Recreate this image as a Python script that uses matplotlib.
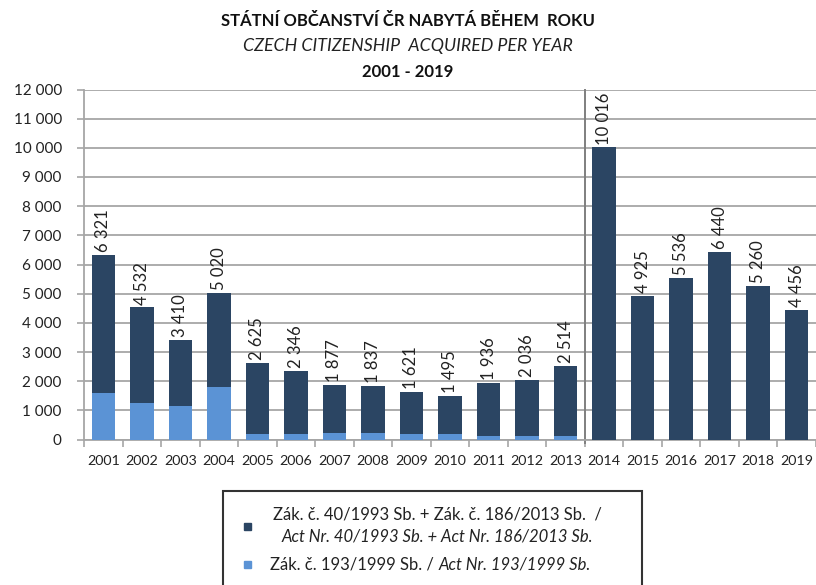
import matplotlib
matplotlib.use("Agg")
import matplotlib.pyplot as plt
from matplotlib.patches import Rectangle
import numpy as np

plt.rcParams['font.family'] = ['Lato', 'DejaVu Sans']

years = [str(y) for y in range(2001, 2020)]
totals = [6321, 4532, 3410, 5020, 2625, 2346, 1877, 1837, 1621, 1495,
          1936, 2036, 2514, 10016, 4925, 5536, 6440, 5260, 4456]
act193 = [1610, 1260, 1145, 1785, 180, 180, 230, 230, 180, 180,
          115, 115, 115, 0, 0, 0, 0, 0, 0]
act40 = [t - a for t, a in zip(totals, act193)]

title1 = "STÁTNÍ OBČANSTVÍ ČR NABYTÁ BĚHEM  ROKU"
title2 = "CZECH CITIZENSHIP  ACQUIRED PER YEAR"
title3 = "2001 - 2019"
leg1a = "Zák. č. 40/1993 Sb. + Zák. č. 186/2013 Sb.  /"
leg1b = "Act Nr. 40/1993 Sb. + Act Nr. 186/2013 Sb."
leg2a = "Zák. č. 193/1999 Sb. / "
leg2b = "Act Nr. 193/1999 Sb."

dark = "#2B4563"
light = "#5B93D5"
grid_c = "#A6A6A6"

W, H = 816, 585
fig = plt.figure(figsize=(W / 100, H / 100), dpi=100)
ax = fig.add_axes([84 / W, 1 - 439.5 / H, (816 - 84) / W, (439.5 - 89.5) / H])

x = np.arange(len(years))
bw = 0.61
ax.bar(x, act193, bw, color=light, zorder=3)
ax.bar(x, act40, bw, bottom=act193, color=dark, zorder=3)

def fmt(v):
    return f"{v:,}".replace(",", " ")

for xi, t in zip(x, totals):
    ax.annotate(fmt(t), (xi, t), xytext=(0, 2), textcoords="offset points",
                rotation=90, ha="center", va="bottom", fontsize=12,
                color="#222222", zorder=4, annotation_clip=False)

ax.set_ylim(0, 12000)
ax.set_xlim(-0.5, 18.45)
ax.set_yticks(range(0, 12001, 1000))
ax.set_yticklabels([fmt(v) for v in range(0, 12001, 1000)], fontsize=11, color="#222222")
ax.yaxis.grid(True, color=grid_c, linewidth=1.3, zorder=0)
ax.set_axisbelow(True)

ax.set_xticks(x)
ax.set_xticklabels(years, fontsize=10.3, color="#222222")
ax.tick_params(axis="x", length=0, pad=11)
ax.set_xticks(np.arange(-0.5, 18.6, 1), minor=True)
ax.tick_params(axis="x", which="minor", length=5, color=grid_c, width=1.2)
ax.tick_params(axis="y", length=5, color=grid_c, width=1.2, pad=11)

for s in ["top", "right"]:
    ax.spines[s].set_visible(False)
ax.spines["left"].set_color(grid_c)
ax.spines["left"].set_linewidth(1.3)
ax.spines["bottom"].set_color(grid_c)
ax.spines["bottom"].set_linewidth(1.3)

ax.axvline(12.5, ymin=-0.01, ymax=1, color="#7F7F7F", linewidth=1.4, zorder=2,
           clip_on=False)

fig.text(0.5, 1 - 21 / H, title1, ha="center", va="center", fontsize=12,
         fontweight="bold", color="#111111")
fig.text(0.5, 1 - 46 / H, title2, ha="center", va="center", fontsize=12.8,
         style="italic", color="#222222")
fig.text(0.5, 1 - 72 / H, title3, ha="center", va="center", fontsize=12,
         fontweight="bold", color="#111111")

# legend box
fig.patches.append(Rectangle((223 / W, 1 - 620 / H), (642 - 223) / W, (620 - 491) / H,
                             transform=fig.transFigure, fill=False,
                             edgecolor="#333333", linewidth=1.5))
fig.patches.append(Rectangle((244 / W, 1 - 530 / H), 7 / W, 7 / H,
                             transform=fig.transFigure, color=dark))
fig.patches.append(Rectangle((244 / W, 1 - 568 / H), 7 / W, 7 / H,
                             transform=fig.transFigure, color=light))
fig.text(437 / W, 1 - 514 / H, leg1a, ha="center", va="center", fontsize=12, color="#222222")
fig.text(437 / W, 1 - 536 / H, leg1b, ha="center", va="center", fontsize=12,
         style="italic", color="#222222")
t1 = fig.text(270 / W, 1 - 565 / H, leg2a, ha="left", va="center", fontsize=12, color="#222222")
fig.canvas.draw()
bb = t1.get_window_extent()
fig.text(bb.x1 / W, 1 - 565 / H, leg2b, ha="left", va="center", fontsize=12,
         style="italic", color="#222222")

fig.savefig("out.png", dpi=100)
